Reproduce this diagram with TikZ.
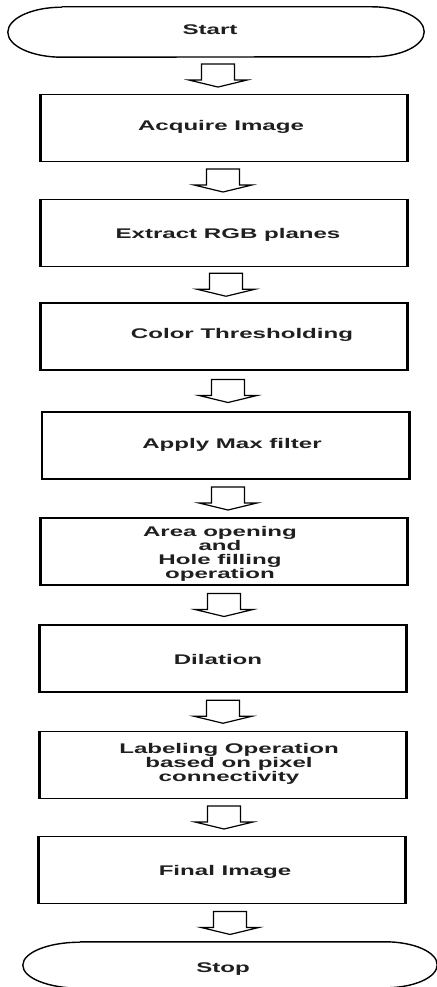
\documentclass[tikz,border=0pt]{standalone}
\usepackage{fontspec}
\newfontfamily\flowfont{Liberation Sans}[FakeStretch=1.72]
\usetikzlibrary{calc}

\tikzset{
  stepbox/.style={draw, line width=1.2pt, minimum width=366pt, minimum height=67pt, inner sep=0pt},
  boxside/.style={line width=2.8pt},
  termbox/.style={inner sep=0pt},
  termline/.style={line width=1.4pt},
  arrowline/.style={line width=1.2pt, line join=miter},
  caption/.style={font=\flowfont\bfseries\fontsize{14}{14}\selectfont, inner sep=0pt, text=black!88},
  multicap/.style={caption, align=center},
}

% hollow block arrow centred in the gap between two nodes, axis at absolute x = #3
\newcommand\hollowarrow[3]{%
  \draw[arrowline] let \p1=($(#1.south)!0.5!(#2.north)$) in
    (#3pt-16.5pt,\y1+11.5pt) -- (#3pt+16.5pt,\y1+11.5pt) -- (#3pt+16.5pt,\y1-4.5pt)
    -- (#3pt+29pt,\y1-4.5pt) -- (#3pt,\y1-11.5pt) -- (#3pt-29pt,\y1-4.5pt)
    -- (#3pt-16.5pt,\y1-4.5pt) -- cycle;}

\begin{document}
\begin{tikzpicture}[x=1pt,y=1pt]
\useasboundingbox (0,0) rectangle (436,-987);
\fill[white] (0,0) rectangle (436,-987);

% terminators
\node[termbox, minimum width=416pt, minimum height=50pt] (start) at (216,-32) {};
\draw[termline] ([xshift=54pt]start.north west) -- ([xshift=-52pt]start.north east)
  arc[start angle=90, end angle=-90, x radius=52pt, y radius=25pt]
  -- ([xshift=54pt]start.south west)
  arc[start angle=-90, end angle=-270, x radius=54pt, y radius=25pt];

\node[termbox, minimum width=414pt, minimum height=46pt] (stop) at (230,-965) {};
\draw[termline] ([xshift=57pt]stop.north west) -- ([xshift=-52pt]stop.north east)
  arc[start angle=90, end angle=-90, x radius=52pt, y radius=23pt]
  -- ([xshift=57pt]stop.south west)
  arc[start angle=-90, end angle=-270, x radius=57pt, y radius=23pt];

% process boxes
\node[stepbox] (acq) at (224,-128) {};
\node[stepbox] (rgb) at (224,-233) {};
\node[stepbox] (thr) at (224,-336.5) {};
\node[stepbox] (maxf) at (225.5,-445.5) {};
\node[stepbox] (area) at (224,-551.5) {};
\node[stepbox] (dil) at (223,-658.5) {};
\node[stepbox] (lab) at (223,-765) {};
\node[stepbox] (fin) at (222,-870) {};

\foreach \b in {acq,rgb,thr,maxf,area,dil,lab,fin}
  \draw[boxside] (\b.north west) -- (\b.south west) (\b.north east) -- (\b.south east);

% captions
\node[caption, anchor=base] (tstart) at (210,-35) {Start};
\node[caption, anchor=base] (tacq) at (221,-131) {Acquire Image};
\node[caption, anchor=base] (trgb) at (228,-238) {Extract RGB planes};
\node[caption, anchor=base] (tthr) at (242,-338) {Color Thresholding};
\node[caption, anchor=base] (tmax) at (232,-448) {Apply Max filter};
\node[multicap, font=\flowfont\bfseries\fontsize{14}{14}\selectfont] (tarea) at (220,-553.5)
  {Area opening\\and\\Hole filling\\operation};
\node[caption, anchor=base] (tdil) at (218,-664) {Dilation};
\node[multicap, font=\flowfont\bfseries\fontsize{14}{12.5}\selectfont] (tlab) at (229,-763.5)
  {Labeling Operation\\based on pixel\\connectivity};
\node[caption, anchor=base] (tfin) at (225,-875) {Final Image};
\node[caption, anchor=base] (tstop) at (223,-972) {Stop};

% flow arrows
\hollowarrow{start}{acq}{218}
\hollowarrow{acq}{rgb}{223}
\hollowarrow{rgb}{thr}{226}
\hollowarrow{thr}{maxf}{228}
\hollowarrow{maxf}{area}{228}
\hollowarrow{area}{dil}{224}
\hollowarrow{dil}{lab}{223}
\hollowarrow{lab}{fin}{224}
\hollowarrow{fin}{stop}{230}
\end{tikzpicture}
\end{document}
